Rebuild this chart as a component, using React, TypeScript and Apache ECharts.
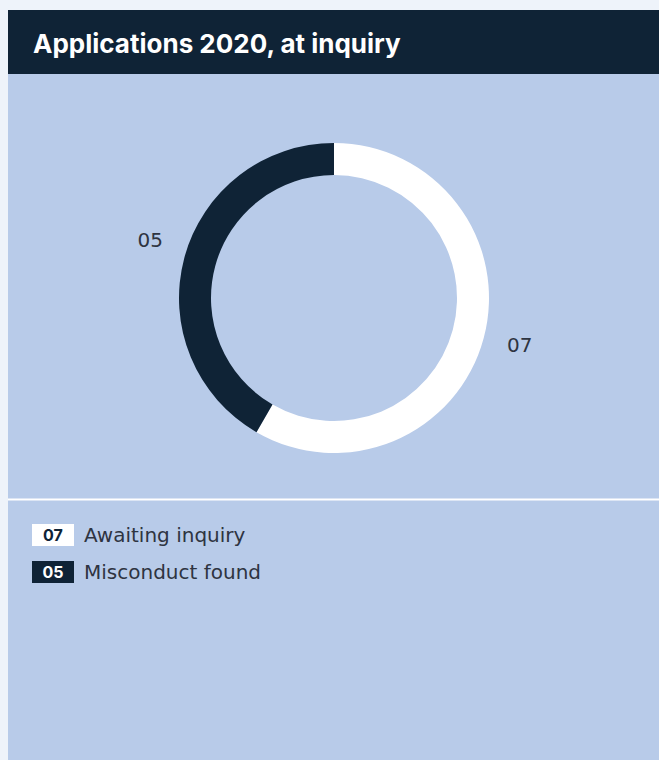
import React, { useEffect, useRef } from "react";
import * as echarts from "echarts";

const titleText = "Applications 2020, at inquiry";
const categories = ["Awaiting inquiry", "Misconduct found"];
const values = [7, 5];
const valueLabels = ["07", "05"];
const colors = ["#ffffff", "#0f2336"];

const FONT = "Inter, 'Noto Sans', sans-serif";
const BODY_FONT = "'DejaVu Sans', sans-serif";
const TEXT = "#2e3441";

export default function App() {
  const ref = useRef<HTMLDivElement>(null);
  useEffect(() => {
    if (!ref.current) return;
    const chart = echarts.init(ref.current, null, { renderer: "svg" });
    chart.setOption({
      animation: false,
      backgroundColor: "#eef3fa",
      graphic: [
        { type: "rect", shape: { x: 8, y: 74, width: 651, height: 686 }, style: { fill: "#b8cbe9" }, z: -10 },
        { type: "rect", shape: { x: 8, y: 10, width: 651, height: 64 }, style: { fill: "#0f2336" }, z: -10 },
        { type: "rect", shape: { x: 8, y: 498.5, width: 651, height: 2 }, style: { fill: "#ffffff" }, z: -10 },
      ],
      title: {
        text: titleText,
        left: 33,
        top: 30,
        padding: 0,
        textStyle: { color: "#ffffff", fontSize: 26, fontWeight: "bold", fontFamily: FONT },
      },
      legend: {
        orient: "vertical",
        left: 22,
        top: 519,
        itemWidth: 0,
        itemHeight: 0,
        icon: "rect",
        itemGap: 15,
        selectedMode: false,
        data: categories,
        formatter: (name: string) => {
          const i = categories.indexOf(name);
          return `{${i === 0 ? "w" : "d"}|${valueLabels[i]}}{g|}${name}`;
        },
        textStyle: {
          color: TEXT,
          fontSize: 20,
          fontFamily: BODY_FONT,
          rich: {
            w: { backgroundColor: colors[0], color: colors[1], fontWeight: "bold", fontSize: 16, width: 42, height: 22, lineHeight: 22, align: "center", fontFamily: FONT },
            d: { backgroundColor: colors[1], color: "#ffffff", fontWeight: "bold", fontSize: 16, width: 42, height: 22, lineHeight: 22, align: "center", fontFamily: FONT },
            g: { width: 10 },
          },
        },
      },
      series: [
        {
          type: "pie",
          center: [334, 298],
          radius: [123, 155],
          startAngle: 90,
          clockwise: true,
          avoidLabelOverlap: false,
          silent: true,
          data: categories.map((c, i) => ({ name: c, value: values[i], itemStyle: { color: colors[i] } })),
          label: {
            show: true,
            position: "outside",
            formatter: (p: any) => valueLabels[p.dataIndex],
            fontSize: 20,
            color: TEXT,
            fontFamily: BODY_FONT,
          },
          labelLine: { show: false, length: 20, length2: 0 },
          labelLayout: (p: any) => (p.dataIndex === 1 ? { dx: 3, dy: -13 } : { dx: -1, dy: 2 }),
        },
      ],
    });
    return () => chart.dispose();
  }, []);
  return (
    <div style={{ position: "fixed", left: 0, top: 0, width: 659, height: 760 }}>
      <div ref={ref} style={{ width: 659, height: 760 }} />
    </div>
  );
}
